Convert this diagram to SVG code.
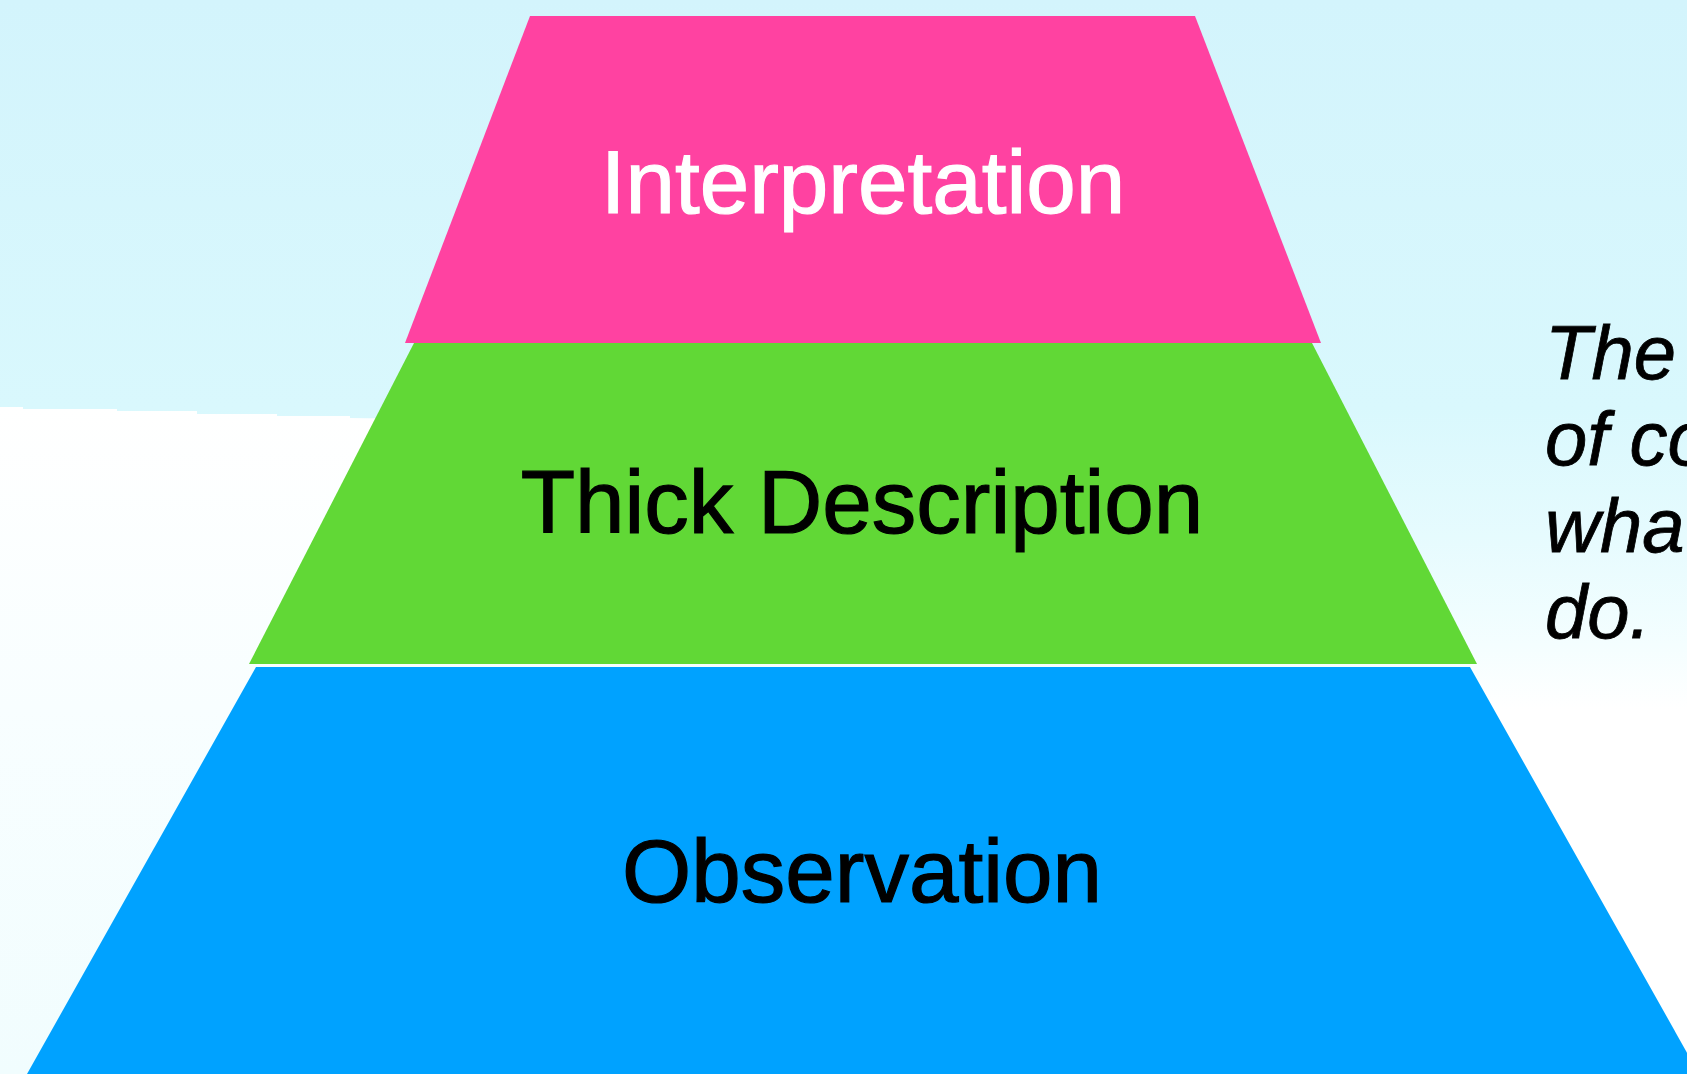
<svg xmlns="http://www.w3.org/2000/svg" width="1687" height="1074" viewBox="0 0 1687 1074">
  <defs>
    <linearGradient id="sky" x1="0" y1="0" x2="0" y2="1">
      <stop offset="0" stop-color="#d3f4fc"/>
      <stop offset="0.38" stop-color="#d9f8fd"/>
      <stop offset="0.5" stop-color="#e6fbfe"/>
      <stop offset="0.6" stop-color="#f4feff"/>
      <stop offset="0.66" stop-color="#ffffff"/>
      <stop offset="1" stop-color="#ffffff"/>
    </linearGradient>
    <linearGradient id="haze" x1="0" y1="0" x2="0" y2="1">
      <stop offset="0" stop-color="#ffffff"/>
      <stop offset="0.45" stop-color="#f8feff"/>
      <stop offset="1" stop-color="#f1fdfe"/>
    </linearGradient>
    <style>
      .label { font-family: "Liberation Sans", Arial, sans-serif; font-size: 89px; text-anchor: middle; stroke-width: 1.2px; }
      .dark { fill: #000000; stroke: #000000; }
      .light { fill: #ffffff; stroke: #ffffff; }
      .note { font-family: "Liberation Sans", Arial, sans-serif; font-size: 76px; font-style: italic; fill: #000000; stroke: #000000; stroke-width: 0.8px; }
    </style>
  </defs>

  <!-- background -->
  <rect x="0" y="0" width="1687" height="1074" fill="url(#sky)"/>
  <path d="M0,407 L23,407 L23,409 L117,409 L117,411 L197,411 L197,414 L277,414 L277,416 L350,416 L350,418 L420,419 L420,1074 L0,1074 Z" fill="url(#haze)"/>

  <!-- pyramid tiers -->
  <g id="observation">
    <polygon points="256,667 1470,667 1699,1074 27,1074" fill="#00a2ff"/>
    <text class="label dark" x="862" y="902">Observation</text>
  </g>
  <g id="thick-description">
    <polygon points="414,343 1312,343 1477,664 249,664" fill="#61d836"/>
    <text class="label dark" x="862" y="533">Thick Description</text>
  </g>
  <g id="interpretation">
    <polygon points="530,16 1195,16 1321,343 405,343" fill="#ff42a1"/>
    <text class="label light" x="863" y="213">Interpretation</text>
  </g>

  <!-- connectors (none) -->
  <g id="connectors"/>

  <!-- side note, running off the right edge -->
  <g id="note">
    <text class="note" x="1545" y="379">The</text>
    <text class="note" x="1545" y="465">of co</text>
    <text class="note" x="1545" y="552">wha</text>
    <text class="note" x="1545" y="638">do.</text>
  </g>
</svg>
